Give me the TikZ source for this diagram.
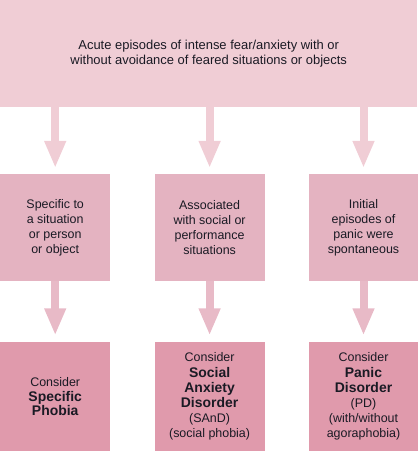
\documentclass[tikz,border=0pt]{standalone}
\usepackage{fontspec}
\setmainfont{Liberation Sans}
\usetikzlibrary{arrows.meta, positioning}

\definecolor{pinkA}{HTML}{F0CDD5}
\definecolor{pinkB}{HTML}{E4B3C1}
\definecolor{pinkC}{HTML}{E09AAC}
\definecolor{arrowB}{HTML}{E8BAC7}
\definecolor{inktext}{HTML}{1A1A24}

\newcommand{\dxname}{\fontsize{14}{16}\selectfont\bfseries}

\begin{document}
\begin{tikzpicture}[x=1bp,y=-1bp,
    >={Triangle[width=20bp,length=27bp]},
    box/.style={rectangle, inner sep=0pt, align=center, text=inktext,
        font=\fontsize{12.5}{15}\selectfont},
    step1/.style={box, fill=pinkB, minimum width=110bp, minimum height=107bp},
    step2/.style={box, fill=pinkC, minimum width=110bp, minimum height=110bp},
    flow/.style={->, line width=8bp, shorten >=6bp}]
	\useasboundingbox (0,0) rectangle (417,451);
	% top question
	\node[box, fill=pinkA, anchor=north west, minimum width=417bp, minimum height=107bp,
	      font=\fontsize{13}{15}\selectfont] (acute) at (0,0)
	      {Acute episodes of intense fear/anxiety with or\\without avoidance of feared situations or objects};
	% features
	\node[step1, anchor=north west] (spec) at (0,174) {Specific to\\a situation\\or person\\or object};
	\node[step1, right=44bp of spec] (social) {Associated\\with social or\\performance\\situations};
	\node[step1, right=44bp of social, minimum width=109bp] (panic) {Initial\\episodes of\\panic were\\spontaneous};
	% diagnoses
	\node[step2, below=60bp of spec] (sp) {Consider\\\dxname Specific\\\dxname Phobia};
	\node[step2, below=60bp of social] (sand) {Consider\\[1bp]\dxname Social\\\dxname Anxiety\\\dxname Disorder\\(SAnD)\\(social phobia)};
	\node[step2, below=60bp of panic, minimum width=109bp] (pd) {Consider\\[1bp]\dxname Panic\\\dxname Disorder\\(PD)\\(with/without\\agoraphobia)};
	% arrows
	\draw[flow, pinkA] (acute.south -| spec) -- (spec);
	\draw[flow, pinkA] (acute.south -| social) -- (social);
	\draw[flow, pinkA] (acute.south -| panic) -- (panic);
	\draw[flow, arrowB] (spec) -- (sp);
	\draw[flow, arrowB] (social) -- (sand);
	\draw[flow, arrowB] (panic) -- (pd);
\end{tikzpicture}
\end{document}
